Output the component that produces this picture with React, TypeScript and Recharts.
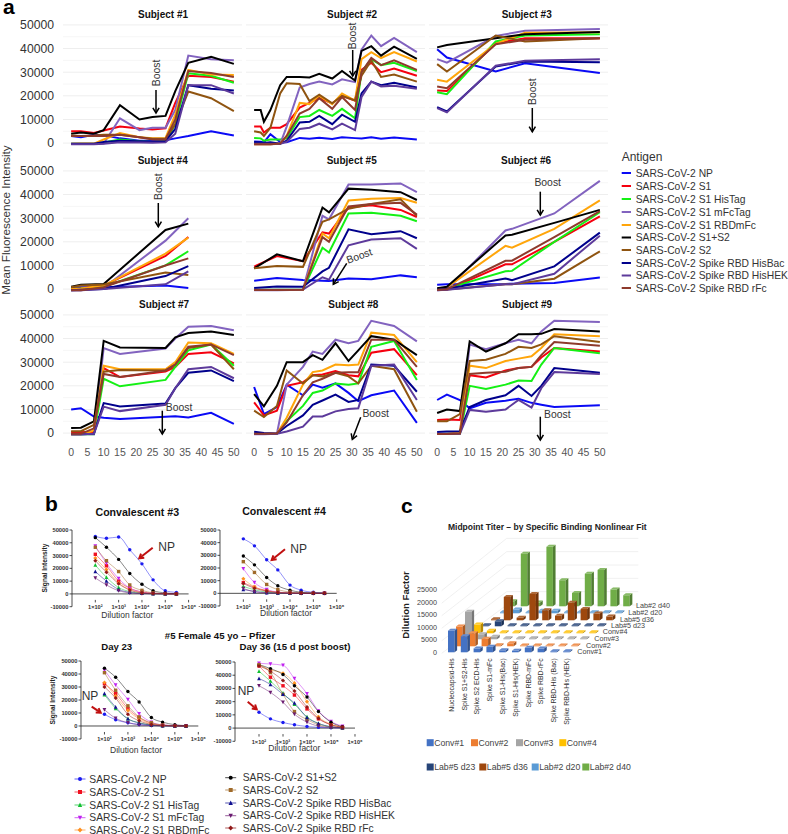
import React from 'react';
import { LineChart, Line, BarChart, Bar, XAxis, YAxis, CartesianGrid, ReferenceLine } from 'recharts';

const FONT = '"Liberation Sans", Arial, sans-serif';

// order of every value table below
const antigens = [
  'SARS-CoV-2 NP',
  'SARS-CoV-2 S1',
  'SARS-CoV-2 S1 HisTag',
  'SARS-CoV-2 S1 mFcTag',
  'SARS-CoV-2 S1 RBDmFc',
  'SARS-CoV-2 S1+S2',
  'SARS-CoV-2 S2',
  'SARS-CoV-2 Spike RBD HisBac',
  'SARS-CoV-2 Spike RBD HisHEK',
  'SARS-CoV-2 Spike RBD rFc',
];
const lineColors = ['#0a0af5', '#f5000f', '#14f014', '#8263bf', '#ffa50a', '#000000', '#8f5410', '#00008c', '#5d3a9b', '#8e3a2c'];
const curveColors = ['#1a1af0', '#f01020', '#10c030', '#c020f0', '#ff9020', '#000000', '#a06a2a', '#101090', '#6a1a70', '#901818'];

const s1Days = [0, 3, 7, 10, 15, 21, 25, 29, 32, 36, 43, 50];
const s1Values = [
  [3000, 2500, 3500, 3300, 2000, 1000, 1000, 1200, 2000, 3000, 5000, 3200],
  [5000, 5000, 4300, 5300, 7000, 6200, 5800, 6300, 17000, 28500, 28000, 26000],
  [-300, -300, -300, 300, 1500, 800, 500, 800, 8000, 29500, 28500, 25500],
  [-300, -300, -300, -200, 10500, 5500, 6500, 6500, 14000, 37000, 35500, 35000],
  [-300, -200, -200, 1500, 4200, 2500, 2000, 2200, 12000, 31000, 29000, 28800],
  [4000, 4500, 4000, 5500, 16000, 10000, 11000, 11500, 22000, 34000, 36500, 33500],
  [3200, 3000, 3200, 3500, 3500, 2500, 1800, 1800, 8000, 21800, 19000, 13500],
  [-300, -300, -300, 500, 1000, 800, 600, 800, 6000, 24500, 23000, 22300],
  [-500, -500, -500, -300, 400, 300, 100, 300, 4000, 24500, 24500, 21000],
  [3000, 3000, 3000, 3000, 3500, 2500, 1500, 1500, 10000, 30500, 29700, 28000],
];

const s2Days = [0, 2, 3, 5, 8, 10, 14, 17, 20, 24, 27, 31, 33, 36, 39, 43, 50];
const s2Values = [
  [700, 600, 300, 3800, 500, 400, 2200, 1800, 2300, 1700, 2500, 2100, 1900, 2500, 1800, 2400, 1500],
  [7000, 7000, 4500, 6500, 6500, 8000, 15000, 17000, 19000, 16800, 20000, 18000, 31000, 34000, 30000, 31500, 28500],
  [2200, 2000, 1000, 1500, 1500, 2000, 11000, 11500, 14000, 11500, 14500, 10500, 30000, 35500, 33000, 34000, 30500],
  [-500, -500, -500, -500, -300, 7000, 23500, 25000, 26000, 24800, 27000, 25800, 39500, 45500, 41000, 44500, 38500],
  [-500, -500, -500, -500, -200, 3000, 17000, 16500, 20000, 16500, 21000, 18000, 35500, 38500, 36000, 38500, 34500],
  [14000, 14000, 9000, 14000, 24500, 28000, 28000, 27800, 29300, 27300, 30500, 26500, 39000, 41000, 37000, 40800, 35600],
  [5000, 4500, 3000, 6500, 21000, 25300, 25000, 17800, 20500, 16800, 20000, 18000, 28500, 35000, 28000, 29000, 26000],
  [500, 300, 0, 300, -300, 1000, 8700, 9000, 11500, 8000, 12000, 9000, 21000, 26000, 24500, 25500, 23500],
  [-300, -300, -300, -300, -300, 500, 6000, 6500, 8200, 5800, 8200, 5500, 19500, 26000, 24000, 24300, 23000],
  [-500, -500, -500, -500, -200, 3000, 12500, 14500, 19000, 14500, 19500, 14000, 30000, 36000, 33000, 35000, 31000],
];

const s3Days = [0, 3, 18, 27, 50];
const s3Values = [
  [39700, 36200, 30300, 33800, 29700],
  [22200, 22000, 42200, 44400, 44400],
  [21500, 20700, 43000, 45500, 46000],
  [35500, 34000, 45300, 47500, 48300],
  [26800, 26000, 42000, 46700, 46900],
  [40500, 41500, 44400, 46000, 47000],
  [33400, 30300, 45500, 43000, 44400],
  [15200, 13400, 32400, 34500, 34200],
  [14800, 13000, 32700, 34800, 35500],
  [23900, 23200, 41800, 43700, 44400],
];

const s4Days = [0, 3, 10, 29, 36];
const s4Values = [
  [500, 800, 800, 1500, 500],
  [0, 300, 1500, 14000, 22000],
  [0, 200, 1000, 10000, 16000],
  [-500, -500, 500, 20500, 30000],
  [0, 300, 1500, 15000, 21800],
  [1000, 1800, 2200, 25000, 27700],
  [800, 1500, 1900, 7000, 6000],
  [-500, -300, 0, 5500, 9700],
  [-500, -500, 0, 2000, 7500],
  [-500, -500, 800, 10000, 13000],
];

const s5Days = [0, 7, 15, 21, 23, 29, 36, 45, 50];
const s5Values = [
  [3500, 4700, 3800, 3500, 3400, 4500, 4200, 5800, 5000],
  [9500, 14000, 11800, 24000, 23500, 34500, 35500, 33500, 30500],
  [-300, -300, -300, 17500, 15500, 32000, 32300, 31000, 28700],
  [-500, -500, -300, 31000, 29500, 44200, 44300, 44700, 41000],
  [-400, -400, -300, 23500, 21500, 37500, 38200, 38500, 36500],
  [8800, 14700, 11800, 34500, 32500, 42500, 42000, 41000, 37700],
  [8800, 9800, 9400, 28500, 29500, 34000, 36000, 38000, 31000],
  [500, 1100, 1000, 7500, 9000, 25300, 23200, 24500, 21500],
  [-300, -300, -200, 5000, 4000, 18500, 21000, 21500, 17000],
  [-400, -400, -300, 22000, 20000, 35000, 36000, 36500, 31500],
];

const s6Days = [0, 3, 21, 23, 36, 50];
const s6Values = [
  [1800, 2000, 2200, 2300, 2600, 4900],
  [-300, -300, 10500, 10500, 20000, 30800],
  [-300, 300, 7500, 7700, 20000, 32500],
  [-500, -200, 24800, 25500, 32000, 45800],
  [-300, 700, 18300, 17500, 25500, 37500],
  [400, 1000, 22700, 23000, 28000, 33500],
  [-300, -200, 2000, 2000, 4400, 16000],
  [-300, 100, 4500, 3800, 9600, 23900],
  [-500, -300, 2000, 2000, 6500, 22600],
  [-400, -100, 12000, 12000, 22000, 33000],
];

const s7Days = [0, 3, 7, 10, 15, 29, 32, 36, 43, 50];
const s7Values = [
  [10000, 10500, 7000, 6500, 6000, 6900, 7100, 6600, 8600, 3900],
  [500, 500, 300, 27500, 23700, 26000, 28000, 33500, 34200, 29500],
  [-500, -500, -500, 23000, 19800, 22500, 28000, 35000, 37500, 28500],
  [-500, -500, -500, 36000, 33500, 35800, 40000, 45000, 45300, 43500],
  [-500, -500, 1000, 28500, 27000, 27000, 30000, 38300, 38000, 33500],
  [2200, 2300, 5000, 39000, 36200, 36000, 40500, 42300, 43000, 41500],
  [800, 800, 3500, 26000, 26700, 26500, 29000, 36000, 37500, 27000],
  [-500, -500, -300, 12700, 11300, 12500, 19000, 25500, 26500, 22000],
  [-500, -500, -300, 11200, 9300, 12000, 19000, 27000, 28000, 23200],
  [-300, -300, 2000, 25000, 23700, 26500, 29000, 36500, 37500, 33000],
];

const s8Days = [0, 3, 7, 10, 15, 18, 21, 25, 29, 32, 36, 43, 50];
const s8Values = [
  [19500, 8000, 11000, 20500, 16000, 20500, 19200, 21000, 17000, 13500, 16000, 18000, 4300],
  [13000, 7500, 9500, 20000, 21500, 24500, 24800, 26300, 24500, 24000, 34000, 35500, 24500],
  [-400, -400, -300, 5000, 11500, 17000, 18000, 21000, 20500, 21000, 36500, 39000, 22500],
  [-500, -500, -300, 20500, 28000, 34500, 33500, 39500, 38000, 39000, 47500, 45300, 38800],
  [-400, -400, -300, 6500, 20500, 25800, 26500, 29000, 28700, 29000, 42500, 41500, 30000],
  [16500, 11300, 20000, 30000, 30000, 33000, 31000, 38000, 30500, 35000, 41000, 39500, 33000],
  [9500, 6800, 11500, 26500, 21000, 24500, 24000, 25500, 24000, 21000, 28500, 27000, 9000],
  [600, 0, -200, 3000, 7500, 12000, 13800, 16300, 13200, 14000, 29000, 28500, 17500],
  [-400, -400, -300, 700, 2700, 7000, 7000, 9200, 10200, 10500, 28500, 29000, 14000],
  [-300, -300, -100, 4500, 16000, 21500, 23000, 25500, 25700, 25700, 39500, 39500, 28000],
];

const s9Days = [0, 3, 7, 10, 15, 21, 25, 29, 32, 36, 50];
const s9Values = [
  [14000, 16300, 14000, 10500, 12800, 13700, 14500, 12800, 12000, 11000, 11800],
  [5500, 5700, 5500, 24500, 23500, 26500, 27500, 28000, 32000, 36000, 34500],
  [-400, -300, -300, 20000, 18700, 20500, 22200, 22000, 29000, 36000, 33800],
  [-400, -400, -200, 37500, 35500, 38000, 39500, 38000, 43000, 47500, 47000],
  [-400, -400, 500, 28500, 27500, 30500, 31500, 32500, 36000, 41800, 41000],
  [8500, 10000, 9300, 38800, 34500, 38000, 41800, 41800, 42000, 44000, 43000],
  [5000, 5000, 8000, 30500, 31000, 33500, 36500, 36000, 37500, 41000, 38500],
  [500, 700, 800, 11000, 14000, 16000, 20000, 15700, 20000, 27500, 25500],
  [-300, -300, -300, 9800, 9000, 10000, 14000, 10800, 19000, 25800, 25000],
  [-400, -400, -200, 25000, 25500, 26000, 27500, 28000, 33000, 38500, 37000],
];

const subjectDays = [s1Days, s2Days, s3Days, s4Days, s5Days, s6Days, s7Days, s8Days, s9Days];
const subjectValues = [s1Values, s2Values, s3Values, s4Values, s5Values, s6Values, s7Values, s8Values, s9Values];
const dayTicks = [0, 5, 10, 15, 20, 25, 30, 35, 40, 45, 50];
const mfiTicks = [0, 10000, 20000, 30000, 40000, 50000];
const mfiMinor = [5000, 15000, 25000, 35000, 45000];

// panel b
const dilutions = [100, 300, 1000, 3000, 10000, 30000, 100000, 300000];
const dilutionTicks = [100, 1000, 10000, 100000, 1000000];
const dilutionLabels = ['1×10²', '1×10³', '1×10⁴', '1×10⁵', '1×10⁶'];
const signalTicks = [-10000, 0, 10000, 20000, 30000, 40000, 50000];
const conv3Values = [
  [45000, 43500, 44500, 34500, 23500, 11000, 2500, 1200],
  [31000, 22000, 10000, 4500, 1500, 500, 200, 0],
  [22500, 13000, 5000, 1800, 500, 200, 0, 0],
  [37500, 24000, 12000, 4500, 1500, 500, 100, 0],
  [28000, 19000, 8500, 3500, 1000, 300, 100, 0],
  [44000, 36500, 27000, 16000, 7500, 2500, 800, 200],
  [36500, 26000, 17500, 7000, 2800, 800, 200, 0],
  [17500, 10000, 3500, 1200, 400, 100, 0, 0],
  [12500, 7000, 2500, 800, 200, 100, 0, 0],
  [26000, 17000, 8000, 3000, 800, 300, 100, 0],
];
const conv4Values = [
  [43000, 37500, 26500, 18500, 6500, 2500, 800, 300],
  [8500, 4800, 2200, 900, 300, 100, 0, 0],
  [5500, 2800, 1000, 300, 100, 0, 0, 0],
  [19500, 8500, 3000, 1000, 300, 100, 0, 0],
  [11500, 5000, 2000, 800, 200, 100, 0, 0],
  [29500, 22500, 12500, 6000, 2500, 800, 200, 100],
  [25000, 16500, 7000, 3000, 1000, 300, 100, 0],
  [3000, 1500, 500, 200, 0, 0, 0, 0],
  [3800, 1200, 300, 100, 0, 0, 0, 0],
  [7800, 4000, 1800, 600, 200, 0, 0, 0],
];
const day23Values = [
  [9000, 4800, 2500, 1200, 500, 200, 100, 0],
  [32500, 25000, 13500, 6500, 2000, 700, 200, 0],
  [24000, 13500, 5500, 2500, 800, 200, 100, 0],
  [43000, 31500, 20500, 9500, 3000, 800, 300, 0],
  [33500, 23000, 12000, 5500, 1500, 500, 100, 0],
  [44500, 37500, 26500, 18500, 6500, 3000, 1000, 300],
  [41000, 27500, 15500, 7000, 2500, 800, 200, 0],
  [25000, 14500, 5500, 2300, 700, 200, 0, 0],
  [12500, 6000, 2500, 900, 300, 100, 0, 0],
  [30000, 21500, 9000, 4000, 1200, 400, 100, 0],
];
const day36Values = [
  [12000, 7000, 4200, 2500, 1200, 500, 200, 0],
  [47000, 38500, 32000, 25000, 14500, 7000, 2500, 500],
  [43000, 35500, 26500, 18000, 8500, 3500, 1000, 200],
  [49000, 48500, 47500, 37500, 26000, 13000, 5000, 1500],
  [47500, 44000, 41500, 34000, 20000, 8500, 3000, 800],
  [48000, 45000, 40500, 32000, 23500, 12500, 4500, 1000],
  [48000, 42000, 25500, 12500, 6500, 2500, 800, 200],
  [37500, 33000, 25500, 19000, 8000, 3500, 1000, 300],
  [32000, 27000, 19500, 10500, 4500, 1500, 500, 100],
  [47000, 43000, 36000, 28000, 16000, 7500, 2500, 700],
];

// panel c
const titerCategories = ['Nucleocapsid-His', 'Spike S1+S2-His', 'Spike S2 ECD-His', 'Spike S1-mFc', 'Spike S1-His(Bac)', 'Spike S1-His(HEK)', 'Spike RBD-mFc', 'Spike RBD-rFc', 'Spike RBD-His (Bac)', 'Spike RBD-His (HEK)'];
const titerRows = ['Conv#1', 'Conv#2', 'Conv#3', 'Conv#4', 'Lab#5 d23', 'Lab#5 d36', 'Lab#2 d20', 'Lab#2 d40'];
const titerColors = ['#4472c4', '#ed7d31', '#a5a5a5', '#ffc000', '#264478', '#9e480e', '#5b9bd5', '#70ad47'];
const conv1Titers = [8600, 6400, 1500, 2200, 800, 600, 1800, 1500, 400, 400];
const conv2Titers = [7900, 5200, 3000, 400, 1200, 300, 300, 300, 300, 300];
const conv3Titers = [11000, 2000, 1000, 400, 400, 400, 400, 400, 400, 400];
const conv4Titers = [3500, 1000, 400, 400, 400, 400, 400, 400, 400, 400];
const lab5d23Titers = [400, 2000, 400, 400, 400, 400, 400, 400, 400, 400];
const lab5d36Titers = [400, 9300, 1000, 10500, 4000, 1800, 7000, 4500, 2700, 1500];
const lab2d20Titers = [400, 1500, 400, 1000, 1000, 400, 400, 400, 400, 400];
const lab2d40Titers = [2000, 21000, 1500, 23700, 10400, 5300, 13000, 14500, 6700, 4400];
const titerValues = [conv1Titers, conv2Titers, conv3Titers, conv4Titers, lab5d23Titers, lab5d36Titers, lab2d20Titers, lab2d40Titers];
const titerTicks = [0, 5000, 10000, 15000, 20000, 25000];

const subjectData = subjectDays.map((days, s) =>
  days.map((day, i) => {
    const row: any = { day };
    antigens.forEach((a, j) => { row[a] = subjectValues[s][j][i]; });
    return row;
  }),
);

function curveData(values: number[][]) {
  return dilutions.map((d, i) => {
    const row: any = { d };
    antigens.forEach((a, j) => { row[a] = values[j][i]; });
    return row;
  });
}

function T({ x, y, size, bold, anchor, rotate, fill, children }: any) {
  return (
    <text
      x={x}
      y={y}
      fontSize={size}
      fontWeight={bold ? 700 : 400}
      textAnchor={anchor || 'middle'}
      dominantBaseline="central"
      fill={fill || '#222'}
      fontFamily={FONT}
      transform={rotate ? `rotate(${rotate} ${x} ${y})` : undefined}
    >
      {children}
    </text>
  );
}

function Arrow({ x1, y1, x2, y2, color, width, head }: any) {
  const a = Math.atan2(y2 - y1, x2 - x1);
  const h = head || 6;
  const p = (d: number) => `${x2 - h * Math.cos(a + d)},${y2 - h * Math.sin(a + d)}`;
  return (
    <g>
      <line x1={x1} y1={y1} x2={x2} y2={y2} stroke={color || '#000'} strokeWidth={width || 1.5} />
      <polyline points={`${p(0.55)} ${x2},${y2} ${p(-0.55)}`} fill="none" stroke={color || '#000'} strokeWidth={width || 1.5} />
    </g>
  );
}

// one small multiple of panel a
const colLeft = [63, 246, 429];
const rowTop = [19, 164.5, 308.5];
const PLOT_W = 179;
const PLOT_H = 130;
const Y_AXIS_W = 55;
const X_AXIS_H = 26;

function SubjectChart({ index }: { index: number }) {
  const col = index % 3;
  const row = Math.floor(index / 3);
  const showY = col === 0;
  const showX = row === 2;
  return (
    <div style={{ position: 'absolute', left: colLeft[col] - (showY ? Y_AXIS_W : 0), top: rowTop[row] }}>
      <LineChart
        width={PLOT_W + (showY ? Y_AXIS_W : 0)}
        height={PLOT_H + (showX ? X_AXIS_H : 0)}
        data={subjectData[index]}
        margin={{ top: 0, right: 0, bottom: 0, left: 0 }}
      >
        <CartesianGrid horizontal vertical={false} horizontalValues={mfiMinor} stroke="#f6f6f6" strokeWidth={1} />
        <CartesianGrid horizontal vertical={false} horizontalValues={mfiTicks} stroke="#eeeeee" strokeWidth={1} />
        <XAxis
          dataKey="day"
          type="number"
          domain={[-2.5, 52.5]}
          ticks={dayTicks}
          hide={!showX}
          height={X_AXIS_H}
          axisLine={false}
          tickLine={false}
          interval={0}
          tickMargin={4}
          tick={{ fill: '#555', fontSize: 10.5, fontFamily: FONT }}
        />
        <YAxis
          type="number"
          domain={[-2500, 52500]}
          ticks={mfiTicks}
          hide={!showY}
          width={Y_AXIS_W}
          axisLine={false}
          tickLine={false}
          interval={0}
          tickMargin={3}
          tick={{ fill: '#333', fontSize: 12.2, fontFamily: FONT }}
        />
        {antigens.map((a, j) => (
          <Line
            key={a}
            dataKey={a}
            stroke={lineColors[j]}
            strokeWidth={2}
            dot={false}
            type="linear"
            isAnimationActive={false}
          />
        ))}
      </LineChart>
    </div>
  );
}

// markers of panel b: circle, square, triangle, inverted triangle, diamond
const markerShapes = ['circle', 'square', 'triangle', 'down', 'diamond', 'circle', 'square', 'triangle', 'down', 'diamond'];

function marker(shape: string, cx: number, cy: number, color: string, r: number, key?: any) {
  if (shape === 'square') return <rect key={key} x={cx - r} y={cy - r} width={2 * r} height={2 * r} fill={color} />;
  if (shape === 'triangle') return <polygon key={key} points={`${cx},${cy - r * 1.2} ${cx - r * 1.1},${cy + r} ${cx + r * 1.1},${cy + r}`} fill={color} />;
  if (shape === 'down') return <polygon key={key} points={`${cx},${cy + r * 1.2} ${cx - r * 1.1},${cy - r} ${cx + r * 1.1},${cy - r}`} fill={color} />;
  if (shape === 'diamond') return <polygon key={key} points={`${cx},${cy - r * 1.2} ${cx - r * 1.2},${cy} ${cx},${cy + r * 1.2} ${cx + r * 1.2},${cy}`} fill={color} />;
  return <circle key={key} cx={cx} cy={cy} r={r} fill={color} />;
}

const CURVE_PAD_TOP = 6;
const CURVE_PAD_RIGHT = 12;

function CurveChart({ values, left, top, width, height }: any) {
  const yAxisW = 30;
  const zeroShift = height / 6;
  const tick = (p: any) => {
    const i = dilutionTicks.indexOf(p.payload.value);
    const y = p.y - zeroShift;
    return (
      <g>
        <line x1={p.x} x2={p.x} y1={y} y2={y + 2.5} stroke="#222" strokeWidth={0.8} />
        <text x={p.x} y={y + 7.5} fontSize={5.6} fontWeight={700} textAnchor="middle" dominantBaseline="central" fill="#333" fontFamily={FONT}>
          {dilutionLabels[i]}
        </text>
      </g>
    );
  };
  return (
    <div style={{ position: 'absolute', left: left - yAxisW, top: top - CURVE_PAD_TOP }}>
      <LineChart
        width={width + yAxisW + CURVE_PAD_RIGHT}
        height={height + 14 + CURVE_PAD_TOP}
        data={curveData(values)}
        margin={{ top: CURVE_PAD_TOP, right: CURVE_PAD_RIGHT, bottom: 0, left: 0 }}
      >
        <XAxis
          dataKey="d"
          type="number"
          scale="log"
          domain={[10, 1000000]}
          ticks={dilutionTicks}
          interval={0}
          height={14}
          axisLine={false}
          tickLine={false}
          tickMargin={0}
          tick={tick}
        />
        <YAxis
          type="number"
          domain={[-10000, 50000]}
          ticks={signalTicks}
          interval={0}
          width={yAxisW}
          tickSize={2.5}
          tickMargin={1}
          axisLine={{ stroke: '#222', strokeWidth: 0.8 }}
          tickLine={{ stroke: '#222', strokeWidth: 0.8 }}
          tick={{ fill: '#333', fontSize: 5.8, fontWeight: 700, fontFamily: FONT }}
        />
        <ReferenceLine y={0} stroke="#222" strokeWidth={0.8} />
        {antigens.map((a, j) => (
          <Line
            key={a}
            dataKey={a}
            type="monotone"
            stroke={curveColors[j]}
            strokeWidth={0.6}
            strokeOpacity={0.8}
            isAnimationActive={false}
            dot={(p: any) => marker(markerShapes[j], p.cx, p.cy, curveColors[j], 1.7, p.key)}
          />
        ))}
      </LineChart>
    </div>
  );
}

// panel c: one overlaid bar chart per depth row, shifted back and up
const ROW_DX = 8.67;
const ROW_DY = 6.53;
const TITER_LEFT = 444.6;
const TITER_BASE = 652.5;
const TITER_W = 128;
const TITER_H = 100.3;
const TITER_X_H = 80;

function Box3D(p: any) {
  const { x, y, width, height, fill } = p;
  if (height == null || height <= 0) return null;
  const dx = 2.6;
  const dy = 2;
  return (
    <g>
      <rect x={x} y={y} width={width} height={height} fill={fill} />
      <polygon points={`${x + width},${y} ${x + width + dx},${y - dy} ${x + width + dx},${y + height - dy} ${x + width},${y + height}`} fill={fill} />
      <polygon points={`${x + width},${y} ${x + width + dx},${y - dy} ${x + width + dx},${y + height - dy} ${x + width},${y + height}`} fill="#000" fillOpacity={0.28} />
      <polygon points={`${x},${y} ${x + dx},${y - dy} ${x + width + dx},${y - dy} ${x + width},${y}`} fill={fill} />
      <polygon points={`${x},${y} ${x + dx},${y - dy} ${x + width + dx},${y - dy} ${x + width},${y}`} fill="#fff" fillOpacity={0.18} />
    </g>
  );
}

function TiterRow({ row }: { row: number }) {
  const front = row === 0;
  const yAxisW = 30;
  const data = titerCategories.map((name, i) => ({ name, value: titerValues[row][i] }));
  const catTick = (p: any) => (
    <text
      x={p.x}
      y={p.y}
      fontSize={6.9}
      fill="#333"
      fontFamily={FONT}
      textAnchor="end"
      dominantBaseline="central"
      transform={`rotate(-90 ${p.x} ${p.y})`}
    >
      {p.payload.value}
    </text>
  );
  return (
    <div
      style={{
        position: 'absolute',
        left: TITER_LEFT + row * ROW_DX - (front ? yAxisW : 0),
        top: TITER_BASE - TITER_H - row * ROW_DY,
      }}
    >
      <BarChart
        width={TITER_W + (front ? yAxisW : 0)}
        height={TITER_H + TITER_X_H}
        data={data}
        barSize={6.5}
        margin={{ top: 0, right: 0, left: 0, bottom: front ? 0 : TITER_X_H }}
      >
        <XAxis dataKey="name" hide={!front} height={TITER_X_H} axisLine={false} tickLine={false} interval={0} tickMargin={0} tick={catTick} />
        <YAxis
          type="number"
          domain={[0, 40000]}
          ticks={titerTicks}
          hide={!front}
          width={yAxisW}
          axisLine={false}
          tickLine={false}
          interval={0}
          tickMargin={2}
          tick={{ fill: '#444', fontSize: 7.2, fontFamily: FONT }}
        />
        <Bar dataKey="value" fill={titerColors[row]} shape={Box3D} isAnimationActive={false} />
      </BarChart>
    </div>
  );
}

const subjectTitles = [
  [163, 14.3], [352, 14.3], [526.7, 14.3],
  [162.7, 160.7], [351.7, 160.7], [526, 160.7],
  [164, 304.3], [353.3, 304.3], [527, 304.3],
];

const legendAY = [173, 186, 199, 212, 225, 237.5, 250, 263, 275.5, 288];
const legendBLeft = [779, 792, 805, 817.7, 830];
const legendBRight = [777.7, 790, 803, 815.7, 828];
const titerLegendX = [[426.7, 471, 516, 559.3], [426.7, 479.3, 531.7, 582.3]];
const titerLabelPos = [[577.3, 651.7], [586, 645], [594.3, 638.3], [602.7, 631.7], [611, 625.3], [620, 619], [628.3, 612], [636, 605.3]];
const wallLevels = [0, 1, 2, 3, 4, 5];

export default function App() {
  return (
    <div style={{ position: 'absolute', left: 0, top: 0, width: 788, height: 834, overflow: 'hidden', background: '#fff', fontFamily: FONT }}>
      {/* back walls of the 3D panel */}
      <svg width={788} height={834} style={{ position: 'absolute', left: 0, top: 0 }}>
        {wallLevels.map((k) => (
          <g key={k} stroke="#ececec" strokeWidth={0.8}>
            <line x1={441.7} y1={653.3 - k * 12.53} x2={506.7} y2={605 - k * 13.33} />
            <line x1={506.7} y1={605 - k * 13.33} x2={638.3} y2={605 - k * 13.33} />
          </g>
        ))}
      </svg>

      {subjectData.map((_, i) => <SubjectChart key={i} index={i} />)}

      <CurveChart values={conv3Values} left={71.7} top={530} width={116.6} height={76.7} />
      <CurveChart values={conv4Values} left={220} top={530} width={116.7} height={76} />
      <CurveChart values={day23Values} left={81} top={661} width={117.3} height={78} />
      <CurveChart values={day36Values} left={235} top={661.7} width={120} height={79.3} />

      {[7, 6, 5, 4, 3, 2, 1, 0].map((r) => <TiterRow key={r} row={r} />)}

      {/* text and annotations */}
      <svg width={788} height={834} style={{ position: 'absolute', left: 0, top: 0, pointerEvents: 'none' }}>
        <T x={3} y={6} size={21} bold anchor="start" fill="#000">a</T>
        <T x={45} y={503} size={21} bold anchor="start" fill="#000">b</T>
        <T x={401} y={505} size={21} bold anchor="start" fill="#000">c</T>

        <T x={5.5} y={220} size={11.7} rotate={-90} fill="#333">Mean Fluorescence Intensity</T>
        {subjectTitles.map(([x, y], i) => (
          <T key={i} x={x} y={y} size={10} bold fill="#111">{`Subject #${i + 1}`}</T>
        ))}

        <T x={156.7} y={73} size={10.4} rotate={-90} fill="#333">Boost</T>
        <Arrow x1={156} y1={90} x2={156} y2={113} />
        <T x={352.7} y={36} size={10.4} rotate={-90} fill="#333">Boost</T>
        <Arrow x1={352.7} y1={50} x2={352.7} y2={76} />
        <T x={532.3} y={91.7} size={10.4} rotate={-90} fill="#333">Boost</T>
        <Arrow x1={532.3} y1={108} x2={532.3} y2={131.7} />
        <T x={158.3} y={186.7} size={10.4} rotate={-90} fill="#333">Boost</T>
        <Arrow x1={158.3} y1={203} x2={158.3} y2={226.7} />
        <T x={359.3} y={256} size={10.4} rotate={-20} fill="#333">Boost</T>
        <Arrow x1={346.7} y1={263.3} x2={333.3} y2={284.3} />
        <T x={547.7} y={182.7} size={10.4} fill="#333">Boost</T>
        <Arrow x1={540.3} y1={191.7} x2={540.3} y2={215} />
        <T x={179} y={407.7} size={10.4} fill="#333">Boost</T>
        <Arrow x1={162.3} y1={410.7} x2={162.3} y2={434} />
        <T x={375.7} y={413} size={10.4} fill="#333">Boost</T>
        <Arrow x1={360.7} y1={417.3} x2={352.3} y2={439.3} />
        <T x={557.3} y={414.3} size={10.4} fill="#333">Boost</T>
        <Arrow x1={540.3} y1={416.7} x2={540.3} y2={440} />

        <T x={621.7} y={156.7} size={12} anchor="start" fill="#333">Antigen</T>
        {antigens.map((a, i) => (
          <g key={a}>
            <line x1={621.7} x2={631} y1={legendAY[i]} y2={legendAY[i]} stroke={lineColors[i]} strokeWidth={2} />
            <T x={635.7} y={legendAY[i]} size={10.3} anchor="start" fill="#333">{a}</T>
          </g>
        ))}

        <T x={137.3} y={512.3} size={10.6} bold fill="#111">Convalescent #3</T>
        <T x={284} y={511.3} size={10.6} bold fill="#111">Convalescent #4</T>
        <T x={220} y={635} size={9.6} bold fill="#111">#5 Female 45 yo – Pfizer</T>
        <T x={116.7} y={646.3} size={9.6} bold fill="#111">Day 23</T>
        <T x={295} y={646.3} size={9.6} bold fill="#111">Day 36 (15 d post boost)</T>

        <T x={44} y={568} size={6.6} bold rotate={-90} fill="#222">Signal Intensity</T>
        <T x={52} y={700} size={6.6} bold rotate={-90} fill="#222">Signal Intensity</T>

        <T x={127.3} y={615} size={8.5} fill="#333">Dilution factor</T>
        <T x={286} y={612.7} size={8.5} fill="#333">Dilution factor</T>
        <T x={136} y={750} size={8.5} fill="#333">Dilution factor</T>
        <T x={294.3} y={747.7} size={8.5} fill="#333">Dilution factor</T>

        <T x={166.7} y={546.7} size={12} fill="#333">NP</T>
        <Arrow x1={152.7} y1={547.7} x2={139.3} y2={558.3} color="#c01010" width={2} head={5} />
        <T x={298.7} y={549} size={12} fill="#333">NP</T>
        <Arrow x1={285} y1={549.3} x2={271.7} y2={560} color="#c01010" width={2} head={5} />
        <T x={90} y={695.7} size={12} fill="#333">NP</T>
        <Arrow x1={91.7} y1={706.7} x2={100.7} y2={712.7} color="#c01010" width={2} head={5} />
        <T x={246} y={690.7} size={12} fill="#333">NP</T>
        <Arrow x1={247.7} y1={701.7} x2={256.7} y2={709.3} color="#c01010" width={2} head={5} />

        {antigens.map((a, i) => {
          const left = i < 5;
          const k = left ? i : i - 5;
          const y = left ? legendBLeft[k] : legendBRight[k];
          const mx = left ? 80 : 230.7;
          const tx = left ? 89.3 : 242.7;
          return (
            <g key={a}>
              <line x1={mx - 5.5} x2={mx + 5.5} y1={y} y2={y} stroke={curveColors[i]} strokeWidth={0.7} />
              {marker(markerShapes[i], mx, y, curveColors[i], 2)}
              <T x={tx} y={y} size={10.3} anchor="start" fill="#333">{a}</T>
            </g>
          );
        })}

        <T x={547.3} y={526.7} size={8.5} bold fill="#222">Midpoint Titer – by Specific Binding Nonlinear Fit</T>
        <T x={405} y={605} size={9.6} bold rotate={-90} fill="#222">Dilution Factor</T>
        {titerRows.map((r, i) => (
          <T key={r} x={titerLabelPos[i][0]} y={titerLabelPos[i][1]} size={7.2} anchor="start" fill="#444">{r}</T>
        ))}
        {titerRows.map((r, i) => {
          const x = titerLegendX[i < 4 ? 0 : 1][i % 4];
          const y = i < 4 ? 742.7 : 767;
          return (
            <g key={r}>
              <rect x={x} y={y - 3.5} width={7} height={7} fill={titerColors[i]} />
              <T x={x + 7.5} y={y} size={8.7} anchor="start" fill="#444">{r}</T>
            </g>
          );
        })}
      </svg>
    </div>
  );
}
